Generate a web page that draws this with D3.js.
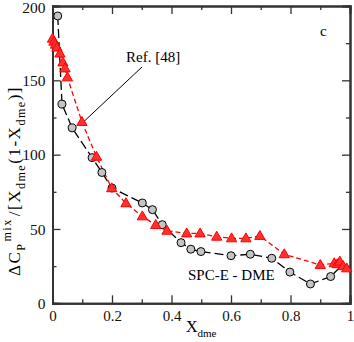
<!DOCTYPE html>
<html><head><meta charset="utf-8">
<script src="https://cdn.jsdelivr.net/npm/d3@7"></script>
<style>body{margin:0;background:#fff}svg{display:block}text{font-family:"Liberation Serif","Times New Roman",serif}</style>
</head><body><svg id="c" width="354" height="342"></svg>
<script>
const simX = [0.0175,0.032,0.066,0.133,0.166,0.2,0.302,0.336,0.369,0.432,0.465,0.499,0.6,0.665,0.737,0.798,0.867,0.935,0.97];
const simY = [193.3,134,118,98,88,77.5,67.5,63,52.9,40.8,36.4,34.8,32,33,30.3,21,13,18,25];
const refX = [0,0.005,0.01,0.015,0.025,0.035,0.042,0.05,0.099,0.148,0.199,0.247,0.302,0.347,0.385,0.451,0.496,0.552,0.602,0.65,0.697,0.779,0.9,0.947,0.957,0.966,0.977,0.989];
const refY = [178,176,174,172,168,162,158,152,122,98.6,77.4,67.3,58.5,52.7,48.8,47,47,44.8,43.7,43.7,45.3,33,25.8,26.9,26.3,28,25,23.5];
const xTicks = [0,0.2,0.4,0.6,0.8,1];
const yTicks = [0,50,100,150,200];

(function(){
const svg = d3.select("#c");
const x = d3.scaleLinear().domain([0,1]).range([52.5,350]);
const y = d3.scaleLinear().domain([0,200]).range([303.3,6]);
const SERIF = "Liberation Serif, Times New Roman, serif";

const g = svg.append("g");
const axB = g.append("g").attr("transform","translate(0,303.3)")
  .call(d3.axisBottom(x).tickValues(xTicks).tickSize(-8).tickPadding(7).tickFormat(d=>d===0||d===1?d3.format("d")(d):d3.format(".1f")(d)));
const axL = g.append("g").attr("transform","translate(52.5,0)")
  .call(d3.axisLeft(y).tickValues(yTicks).tickSize(-8).tickPadding(7).tickFormat(d3.format("d")));
g.append("g").attr("transform","translate(0,6)")
  .call(d3.axisTop(x).tickValues(xTicks).tickSize(-8).tickFormat(""));
g.append("g").attr("transform","translate(350,0)")
  .call(d3.axisRight(y).tickValues(yTicks).tickSize(-8).tickFormat(""));
const xMinor = [0.1,0.3,0.5,0.7,0.9], yMinor=[25,75,125,175];
g.append("g").attr("transform","translate(0,303.3)").call(d3.axisBottom(x).tickValues(xMinor).tickSize(-4).tickFormat(""));
g.append("g").attr("transform","translate(0,6)").call(d3.axisTop(x).tickValues(xMinor).tickSize(-4).tickFormat(""));
g.append("g").attr("transform","translate(52.5,0)").call(d3.axisLeft(y).tickValues(yMinor).tickSize(-4).tickFormat(""));
g.append("g").attr("transform","translate(350,0)").call(d3.axisRight(y).tickValues(yMinor).tickSize(-4).tickFormat(""));
g.selectAll(".domain").attr("stroke","#333").attr("stroke-width",2);
g.selectAll(".tick line").attr("stroke","#333").attr("stroke-width",1.3);
axB.attr("font-family",SERIF).attr("font-size",15);
axL.attr("font-family",SERIF).attr("font-size",15.5);
axB.selectAll("text").attr("fill","#111");
axL.selectAll("text").attr("fill","#111").attr("dy","0.34em");
axL.selectAll(".tick").filter(d=>d===200).select("text").attr("dy","0.42em");

svg.append("line").attr("x1",x(0.301)).attr("y1",y(159)).attr("x2",x(0.104)).attr("y2",y(122)).attr("stroke","#000").attr("stroke-width",1);
svg.append("text").attr("x",126).attr("y",62).attr("font-size",15).text("Ref. [48]");
svg.append("text").attr("x",320).attr("y",36).attr("font-size",15).text("c");
svg.append("text").attr("x",188).attr("y",280).attr("font-size",15).text("SPC-E - DME");

const simData = simX.map((v,i)=>[v,simY[i]]);
const refData = refX.map((v,i)=>[v,refY[i]]);
const line = d3.line().x(d=>x(d[0])).y(d=>y(d[1]));

svg.append("path").datum(simData).attr("d",line).attr("fill","none").attr("stroke","#000").attr("stroke-width",1.3).attr("stroke-dasharray","9,4");
svg.append("path").datum(refData).attr("d",line).attr("fill","none").attr("stroke","#ff0000").attr("stroke-width",1.3).attr("stroke-dasharray","5,3");

svg.append("g").selectAll("circle").data(simData.slice(0,-1)).join("circle")
  .attr("cx",d=>x(d[0])).attr("cy",d=>y(d[1])).attr("r",4)
  .attr("fill","#c4c4c4").attr("stroke","#000").attr("stroke-width",1);
const tri = d3.symbol().type(d3.symbolTriangle).size(46);
svg.append("g").selectAll("path").data(refData).join("path")
  .attr("d",tri).attr("transform",d=>`translate(${x(d[0])},${y(d[1])+0.5})`)
  .attr("fill","#ff3030").attr("stroke","#ff0000").attr("stroke-width",1);

const xl = svg.append("text").attr("x",186).attr("y",332).attr("font-size",16);
xl.append("tspan").text("X");
xl.append("tspan").attr("dy",5).attr("font-size",11).text("dme");

// y label
const yl = svg.append("text").attr("transform","translate(20,276) rotate(-90)").attr("font-size",17);
yl.append("tspan").text("ΔC");
yl.append("tspan").attr("dy",5).attr("font-size",12).text("P");
yl.append("tspan").attr("dy",-14).attr("dx",1).attr("font-size",12).text("mix");
yl.append("tspan").attr("dy",9).attr("dx",2).text("/[X");
yl.append("tspan").attr("dy",5).attr("font-size",12).text("dme");
yl.append("tspan").attr("dy",-5).text("(1-X");
yl.append("tspan").attr("dy",5).attr("font-size",12).text("dme");
yl.append("tspan").attr("dy",-5).text(")]");
const len = yl.node().getComputedTextLength();
const target = 187;
if (len < target) {
  const nch = "ΔCPmix/[Xdme(1-Xdme)]".length;
  yl.attr("letter-spacing", ((target-len)/nch).toFixed(2));
}
})();
</script></body></html>
